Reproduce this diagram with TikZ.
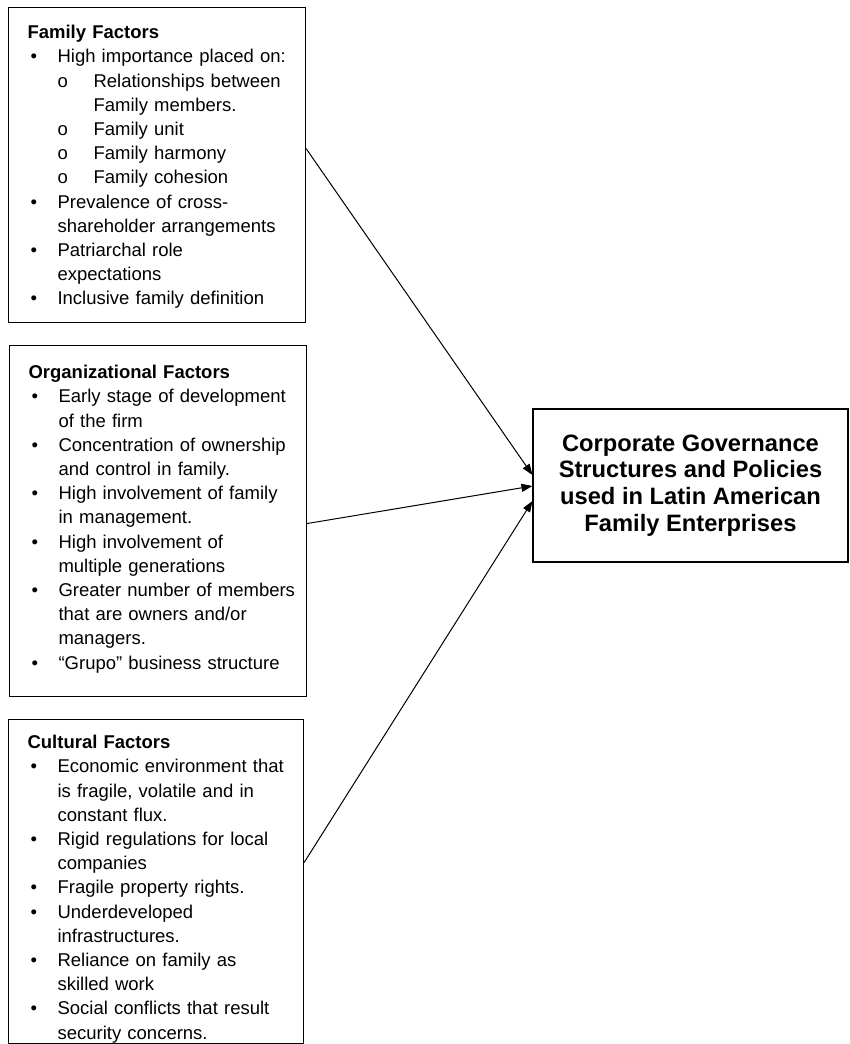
\documentclass[tikz,border=0pt]{standalone}
\usepackage{fontspec}
\setmainfont{Liberation Sans}
\usetikzlibrary{arrows.meta,positioning}

% list lines inside the factor boxes
\newcommand{\boxhead}[1]{\par\leftskip=19pt\noindent\textbf{#1}}
\newcommand{\bitem}[1]{\par\leftskip=49pt\noindent\llap{\makebox[27pt][l]{\textbullet}}#1}
\newcommand{\oitem}[1]{\par\leftskip=85pt\noindent\llap{\makebox[36pt][l]{o}}#1}

\tikzset{
  factorbox/.style={rectangle, draw, line width=1.1pt, anchor=north west,
    inner xsep=0pt, inner ysep=0pt, text width=297pt, align=left,
    font=\fontsize{18.5}{24.2}\selectfont},
  govbox/.style={rectangle, draw, line width=1.1pt, minimum width=315pt,
    minimum height=153pt, align=center,
    font=\bfseries\fontsize{23.7}{26.7}\selectfont}
}

\begin{document}
\begin{tikzpicture}[x=1pt, y=-1pt, >={Triangle[length=11pt,width=8pt]}, line width=1pt]
    \useasboundingbox (0,0) rectangle (849,1044);

    \node[factorbox, text height=7pt, text depth=308pt] (fam) at (8,7) {%
      \boxhead{Family Factors}
      \bitem{High importance placed on:}
      \oitem{Relationships between\newline Family members.}
      \oitem{Family unit}
      \oitem{Family harmony}
      \oitem{Family cohesion}
      \bitem{Prevalence of cross-\newline shareholder arrangements}
      \bitem{Patriarchal role\newline expectations}
      \bitem{Inclusive family definition}\par};

    \node[factorbox, text height=9pt, text depth=342pt] (org) at (9,345) {%
      \boxhead{Organizational Factors}
      \bitem{Early stage of development\newline of the firm}
      \bitem{Concentration of ownership\newline and control in family.}
      \bitem{High involvement of family\newline in management.}
      \bitem{High involvement of\newline multiple generations}
      \bitem{Greater number of members\newline that are owners and/or\newline managers.}
      \bitem{“Grupo” business structure}\par};

    \node[factorbox, text width=295pt, text height=5pt, text depth=319pt] (cul) at (8,719) {%
      \boxhead{Cultural Factors}
      \bitem{Economic environment that\newline is fragile, volatile and in\newline constant flux.}
      \bitem{Rigid regulations for local\newline companies}
      \bitem{Fragile property rights.}
      \bitem{Underdeveloped\newline infrastructures.}
      \bitem{Reliance on family as\newline skilled work}
      \bitem{Social conflicts that result\newline security concerns.}\par};

    \node[govbox] (gov) at (690.5,485.5) {Corporate Governance\\Structures and Policies\\used in Latin American\\Family Enterprises};

    % Influences
    \draw[->] ([yshift=16.5pt]fam.east) -- ([yshift=10.5pt]gov.west);
    \draw[->] ([yshift=-2.5pt]org.east) -- ([yshift=-0.5pt]gov.west);
    \draw[->] ([yshift=19pt]cul.east) -- ([yshift=-15.5pt]gov.west);
\end{tikzpicture}
\end{document}
